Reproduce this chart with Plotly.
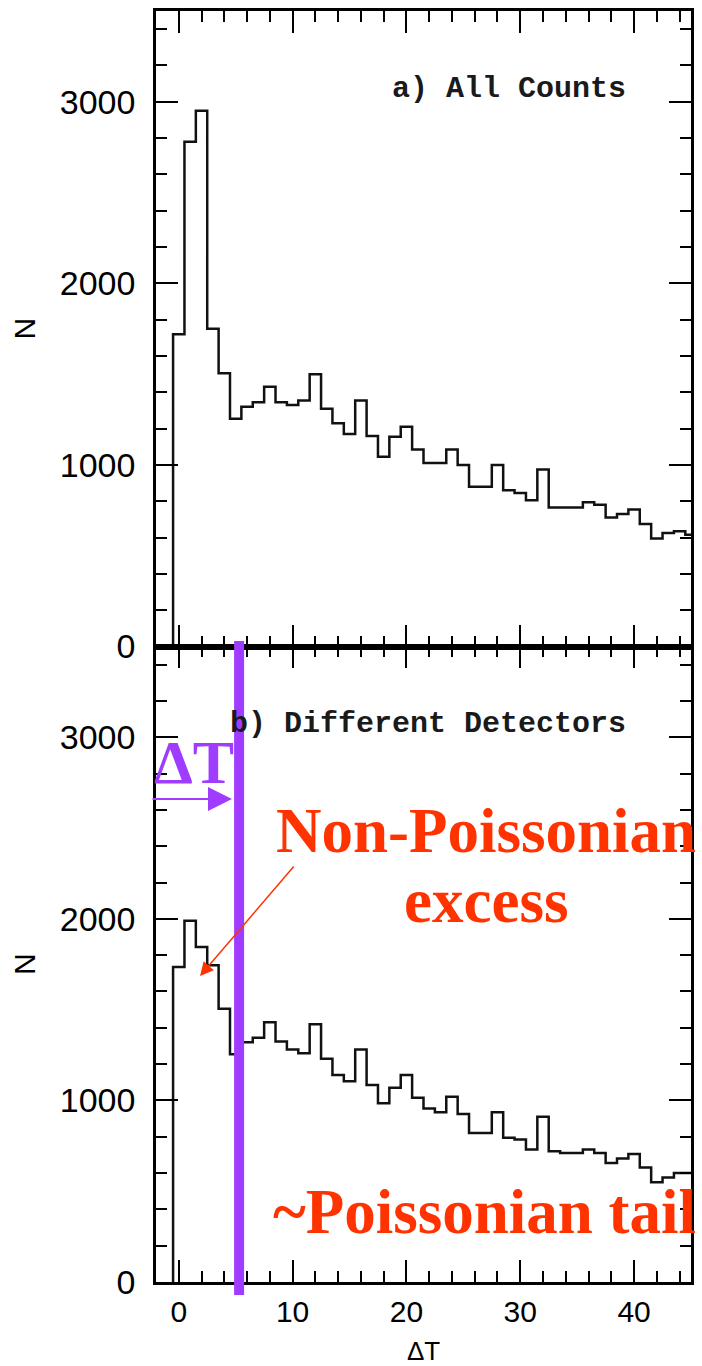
import plotly.graph_objects as go

# ---- data ----
delta_t = list(range(0, 46))  # bin centres, bin width 1

counts_all = [1720, 2780, 2950, 1750, 1505, 1255, 1320, 1345, 1430, 1345,
              1330, 1355, 1500, 1310, 1230, 1170, 1355, 1160, 1045, 1155,
              1210, 1085, 1010, 1010, 1085, 1000, 880, 880, 1000, 860,
              845, 805, 975, 765, 765, 765, 795, 780, 710, 730,
              755, 675, 595, 625, 635, 615]

counts_diff = [1735, 1990, 1845, 1745, 1505, 1255, 1320, 1345, 1430, 1325,
               1280, 1260, 1420, 1230, 1140, 1105, 1280, 1085, 985, 1070,
               1140, 1015, 955, 935, 1020, 925, 820, 820, 935, 795,
               785, 730, 910, 720, 710, 710, 730, 710, 655, 680,
               705, 630, 550, 575, 600, 600]

x_ticks = [0, 10, 20, 30, 40]
y_ticks = [0, 1000, 2000, 3000]
cut_dt = 5.3

panel_labels = ["a) All Counts", "b) Different Detectors"]

# ---- helpers ----
W, H = 702, 1366
ML, MR, MT, MB = 156, 11, 11, 84


def px(x):
    return (x - ML) / (W - ML - MR)


def py(y):
    return (H - MB - y) / (H - MT - MB)


def step_xy(centers, vals):
    xs = [centers[0] - 0.5]
    ys = [0]
    for c, v in zip(centers, vals):
        xs.append(c - 0.5)
        ys.append(v)
    xs.append(centers[-1] + 0.5)
    ys.append(vals[-1])
    return xs, ys


fig = go.Figure()
for vals, xa, ya in [(counts_all, "x", "y"), (counts_diff, "x2", "y2")]:
    xs, ys = step_xy(delta_t, vals)
    fig.add_trace(go.Scatter(x=xs, y=ys, mode="lines", line_shape="hv",
                             line=dict(color="#111111", width=2.5),
                             xaxis=xa, yaxis=ya, hoverinfo="skip"))

axis_common = dict(showline=True, linecolor="black", linewidth=2.5,
                   mirror="ticks", ticks="inside", ticklen=22, tickwidth=2,
                   tickcolor="black", showgrid=False, zeroline=False,
                   automargin=False,
                   minor=dict(ticks="inside", ticklen=11, tickwidth=2,
                              tickcolor="black", showgrid=False))

xcommon = dict(axis_common, range=[-2, 45], tickvals=x_ticks)
xcommon["minor"] = dict(axis_common["minor"], dtick=2, tick0=0)
ycommon = dict(axis_common, range=[0, 3500], tickvals=y_ticks,
               tickfont=dict(family="Liberation Sans", size=34, color="black"),
               ticklabelstandoff=11,
               title=dict(text="N", font=dict(family="Liberation Sans", size=30,
                                              color="black"), standoff=16))
ycommon["minor"] = dict(axis_common["minor"], dtick=200, tick0=0)

fig.update_layout(
    width=W, height=H,
    margin=dict(l=ML, r=MR, t=MT, b=MB, autoexpand=False),
    plot_bgcolor="white", paper_bgcolor="white",
    showlegend=False,
    xaxis=dict(xcommon, anchor="y", showticklabels=False, matches="x2"),
    yaxis=dict(ycommon, domain=[0.5, 1], anchor="x"),
    xaxis2=dict(xcommon, anchor="y2",
                tickfont=dict(family="Liberation Sans", size=30, color="black"),
                ticklabelstandoff=1,
                title=dict(text="ΔT", font=dict(family="Liberation Sans", size=26,
                                                color="black"), standoff=20)),
    yaxis2=dict(ycommon, domain=[0, 0.5], anchor="x2"),
)

# panel labels
mono = dict(family="Liberation Mono", size=30, color="#1a1a1a")
fig.add_annotation(text="<b>" + panel_labels[0] + "</b>", xref="paper", yref="paper",
                   x=px(628), y=py(89), xanchor="right", yanchor="middle",
                   showarrow=False, font=mono)
fig.add_annotation(text="<b>" + panel_labels[1] + "</b>", xref="paper", yref="paper",
                   x=px(628), y=py(724), xanchor="right", yanchor="middle",
                   showarrow=False, font=mono)

# purple cut line
PURPLE = "#A03CFF"
RED = "#FF3300"
fig.add_shape(type="line", xref="x2", yref="paper", x0=cut_dt, x1=cut_dt,
              y0=py(641), y1=py(1295), line=dict(color=PURPLE, width=10),
              layer="above")

serif_p = dict(family="Liberation Serif", size=62, color=PURPLE)
fig.add_annotation(text="<b>ΔT</b>", xref="paper", yref="paper",
                   x=px(194), y=py(762), xanchor="center", yanchor="middle",
                   showarrow=False, font=serif_p)
fig.add_annotation(text="", xref="paper", yref="paper", x=px(232), y=py(799),
                   ax=-81, ay=0, showarrow=True, arrowhead=2, arrowsize=2.4,
                   arrowwidth=2, arrowcolor=PURPLE)

serif_r = dict(family="Liberation Serif", size=63, color=RED)
fig.add_annotation(text="<b>Non-Poissonian</b>", xref="paper", yref="paper",
                   x=px(486), y=py(831), xanchor="center", yanchor="middle",
                   showarrow=False, font=serif_r)
fig.add_annotation(text="<b>excess</b>", xref="paper", yref="paper",
                   x=px(486), y=py(901), xanchor="center", yanchor="middle",
                   showarrow=False, font=serif_r)
fig.add_annotation(text="<b>~Poissonian tail</b>", xref="paper", yref="paper",
                   x=px(484), y=py(1212), xanchor="center", yanchor="middle",
                   showarrow=False, font=serif_r)
fig.add_annotation(text="", xref="paper", yref="paper", x=px(200), y=py(976),
                   ax=95, ay=-111, showarrow=True, arrowhead=2, arrowsize=1.8,
                   arrowwidth=1.5, arrowcolor=RED)

fig.write_html("out.html")
